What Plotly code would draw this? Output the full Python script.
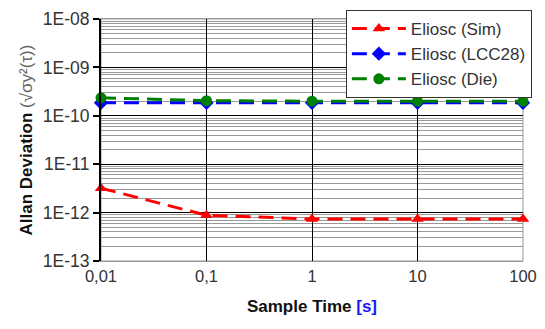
import plotly.graph_objects as go

sample_time = [0.01, 0.1, 1, 10, 100]
x_tick_labels = ["0,01", "0,1", "1", "10", "100"]
y_tick_vals = [1e-13, 1e-12, 1e-11, 1e-10, 1e-9, 1e-8]
y_tick_labels = ["1E-13", "1E-12", "1E-11", "1E-10", "1E-09", "1E-08"]

sim = [3.2e-12, 8.8e-13, 7.4e-13, 7.4e-13, 7.4e-13]
lcc28 = [1.85e-10, 1.85e-10, 1.85e-10, 1.85e-10, 1.85e-10]
die = [2.35e-10, 2.05e-10, 2.0e-10, 2.0e-10, 2.0e-10]

series = [
    ("Eliosc (Sim)", sim, "#ff0000", "triangle-up"),
    ("Eliosc (LCC28)", lcc28, "#0000ff", "diamond"),
    ("Eliosc (Die)", die, "#008000", "circle"),
]

fig = go.Figure()
for name, vals, color, sym in series:
    fig.add_trace(go.Scatter(
        x=sample_time, y=vals, name=name, mode="lines+markers",
        line=dict(color=color, width=3, dash="15px,8px"),
        marker=dict(color=color, symbol=sym, size=11),
        cliponaxis=False,
    ))

minor_vals = [m * 10.0 ** e for e in range(-13, -8) for m in range(2, 10)]

font = "Liberation Sans, Arial, sans-serif"
# page body has an 8px default margin: compensate for it in the margins
fig.update_layout(
    width=545, height=329,
    margin=dict(l=93, r=30, t=11, b=76, autoexpand=False),
    paper_bgcolor="white", plot_bgcolor="white",
    font=dict(family=font, size=16, color="#222"),
    showlegend=True,
    legend=dict(
        x=1.021, y=1.037, xanchor="right", yanchor="top",
        bgcolor="white", bordercolor="#333", borderwidth=1,
        font=dict(size=17, color="#333"), tracegroupgap=0,
        itemwidth=54,
    ),
    xaxis=dict(
        type="log", range=[-2, 2],
        tickvals=sample_time, ticktext=x_tick_labels,
        showgrid=True, gridcolor="#000", gridwidth=1,
        showline=True, linecolor="#999", mirror=True,
        ticks="", zeroline=False, ticklabeloverflow="allow",
        tickfont=dict(size=16.5, color="#333"),
        title=dict(text="<b>Sample Time <span style='color:#1a1aff'>[s]</span></b>",
                   font=dict(size=17, color="#111"), standoff=16),
    ),
    yaxis=dict(
        type="log", range=[-13, -8],
        tickvals=y_tick_vals, ticktext=y_tick_labels,
        showgrid=True, gridcolor="#000", gridwidth=1,
        showline=True, linecolor="#000", linewidth=2, mirror=False,
        ticks="outside", ticklen=6, tickcolor="#000", tickwidth=2,
        zeroline=False, ticklabeloverflow="allow",
        tickfont=dict(size=17.5, color="#333"),
        minor=dict(tickvals=minor_vals, showgrid=True, gridcolor="#999",
                   gridwidth=1, ticks=""),
        title=dict(text="<b>Allan Deviation</b> <span style='color:#666'>(√σy²(τ))</span>",
                   font=dict(size=17, color="#111"), standoff=6),
    ),
)
fig.add_shape(type="rect", xref="paper", yref="paper", x0=0, x1=1, y0=0, y1=1,
              line=dict(color="#999", width=1), layer="below")

fig.write_html("out.html")
